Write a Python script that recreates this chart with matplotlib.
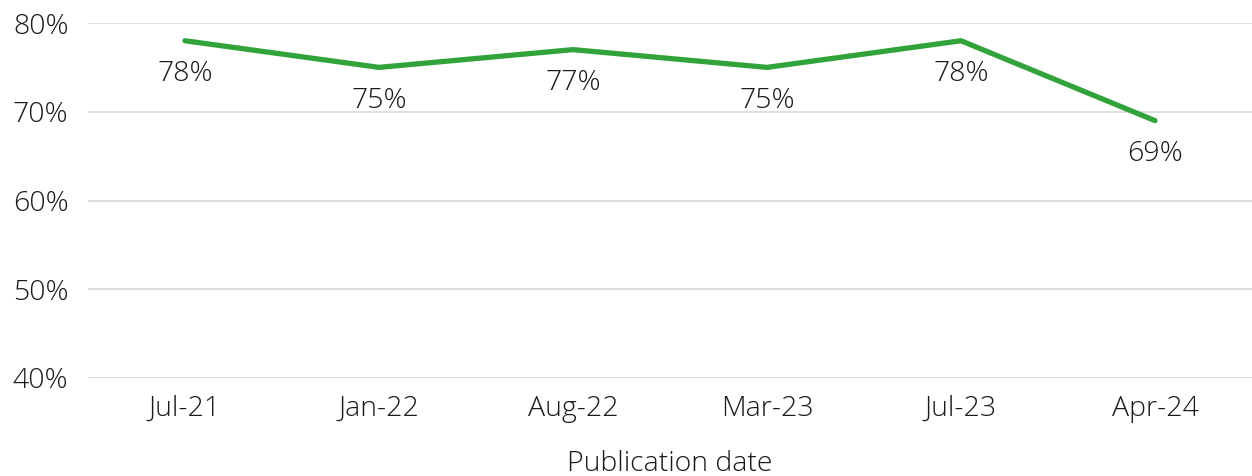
import matplotlib
matplotlib.use("Agg")
import matplotlib.pyplot as plt
from matplotlib.ticker import FuncFormatter

categories = ["Jul-21", "Jan-22", "Aug-22", "Mar-23", "Jul-23", "Apr-24"]
values = [78, 75, 77, 75, 78, 69]
yticks = [40, 50, 60, 70, 80]

plt.rcParams['font.family'] = ['Open Sans', 'DejaVu Sans']
plt.rcParams['font.weight'] = 'light'

fig = plt.figure(figsize=(12.52, 4.76), dpi=100)
ax = fig.add_axes([88/1252, 1-378/476, 1-88/1252, (378-23)/476])

x = list(range(len(categories)))
ax.plot(x, values, color="#31A33A", lw=3.8, solid_capstyle='round', solid_joinstyle='miter', zorder=3)
for xi, v in zip(x, values):
    ax.annotate(f"{v}%", (xi, v), xytext=(0, -14), textcoords='offset points',
                ha='center', va='top', fontsize=20.5, color='#1a1a1a', fontweight='light')

ax.set_xlim(-0.5, len(categories) - 0.5)
ax.set_ylim(40, 80)
ax.set_yticks(yticks)
ax.yaxis.set_major_formatter(FuncFormatter(lambda v, p: f"{int(v)}%"))
ax.set_xticks(x)
ax.set_xticklabels(categories)
ax.grid(axis='y', color='#d9d9d9', lw=1.2)
ax.set_axisbelow(True)
for s in ax.spines.values():
    s.set_visible(False)
ax.tick_params(axis='both', length=0, labelsize=20.5, colors='#1a1a1a')
ax.tick_params(axis='x', pad=12)
ax.tick_params(axis='y', pad=14)
ax.set_xlabel("Publication date", fontsize=20.5, color='#1a1a1a', labelpad=20, fontweight='light')

fig.savefig("out.png", dpi=100)
